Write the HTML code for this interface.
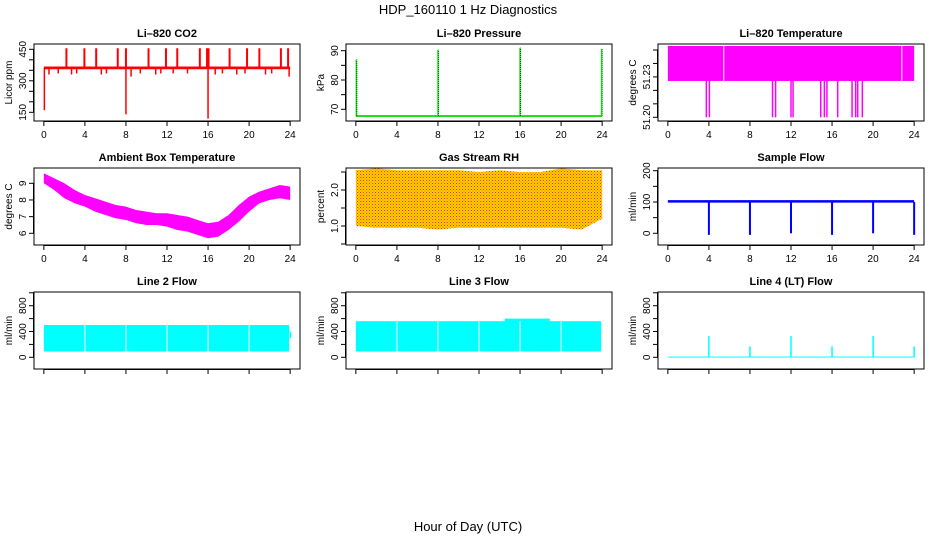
<!DOCTYPE html>
<html><head><meta charset="utf-8"><style>
body{margin:0;background:#fff}
svg{display:block;font-family:"Liberation Sans",sans-serif}
.t{font-weight:bold;font-size:11px}
.a{font-size:10px}
</style></head><body>
<svg id="c" width="936" height="540" xmlns="http://www.w3.org/2000/svg">
<defs>
<pattern id="rhp" width="3" height="3" patternUnits="userSpaceOnUse"><rect width="3" height="3" fill="#ffd400"/><rect width="1" height="1" fill="#ff2a00"/><rect x="1.5" y="1.5" width="1" height="1" fill="#ff4a00"/></pattern>
</defs>
<text x="468" y="14" text-anchor="middle" font-size="13">HDP_160110  1 Hz Diagnostics</text>
<text x="468" y="531" text-anchor="middle" font-size="13">Hour of Day (UTC)</text>
</svg>
<script>
const xTicks=[0,4,8,12,16,20,24];
// CO2
const co2Base=[355,368];
const co2SpikeHours=[2.2,3.95,5.1,7.2,8.0,10.2,11.9,13.0,15.2,15.9,16.05,18.1,19.8,21.0,23.1,23.8];
const co2SpikeVals=[455,455,455,455,455,455,455,455,455,455,455,455,455,455,455,455];
const co2DipHours=[0.05,8.0,16.0,0.5,1.4,2.7,3.2,5.6,6.1,8.5,9.4,10.9,11.4,12.6,14.0,16.7,17.4,18.8,19.6,21.6,22.2,23.9];
const co2DipVals=[160,140,120,330,335,330,335,330,335,320,335,330,335,335,335,330,335,330,335,330,335,320];
// Pressure
const presBase=67.7;
const presSpikeHours=[0.05,8.0,16.0,23.95];
const presSpikeVals=[87,90.3,91,90.6];
// Li-820 temperature
const tempBand=[51.227,51.253];
const tempDipHours=[3.75,4.05,10.2,10.5,12.0,12.2,14.9,15.25,15.5,16.55,17.95,18.3,18.5,18.95];
const tempDipVals=[51.20,51.20,51.20,51.20,51.20,51.20,51.20,51.20,51.20,51.20,51.20,51.20,51.20,51.20];
// Ambient box temp
const ambHours=[0,1,2,3,4,5,6,7,8,9,10,11,12,13,14,15,16,17,18,19,20,21,22,23,24];
const ambHigh=[9.6,9.3,9.0,8.6,8.3,8.1,7.9,7.7,7.6,7.4,7.3,7.2,7.2,7.1,7.0,6.8,6.6,6.7,7.1,7.7,8.2,8.5,8.7,8.9,8.8];
const ambLow=[9.0,8.6,8.1,7.8,7.6,7.3,7.1,6.9,6.8,6.6,6.5,6.5,6.4,6.2,6.1,5.9,5.7,5.8,6.2,6.7,7.3,7.8,8.0,8.1,8.0];
// RH
const rhHours=[0,2,4,6,8,10,12,14,16,18,20,22,24];
const rhHigh=[2.55,2.6,2.55,2.55,2.55,2.55,2.5,2.55,2.5,2.5,2.6,2.55,2.55];
const rhLow=[1.0,0.95,0.95,0.95,0.9,0.95,0.95,0.95,0.95,0.95,0.95,0.9,1.2];
// Sample flow
const sfBand=[98,106];
const sfDipHours=[4,8,12,16,20,24];
const sfDipVals=[-5,-5,0,-5,0,-5];
// Line flows
const l2Band=[90,500];
const l3Band=[90,560];
const lGapHours=[4,8,12,16,20];
const l4SpikeHours=[4,8,12,16,20,24];
const l4SpikeVals=[330,170,330,170,330,170];

const svg=document.getElementById('c');
const NS='http://www.w3.org/2000/svg';
function mk(tag,attrs,parent){const e=document.createElementNS(NS,tag);for(const k in attrs)e.setAttribute(k,attrs[k]);(parent||svg).appendChild(e);return e;}
const colX=[34,346,658], rowY=[44,168,292], W=266, H=77;
function panel(c,r,title,ylab,v1,p1,v2,p2,yt,yl,name){
  const L=colX[c],T=rowY[r];
  const g=mk('g',{});
  
  
  const px=x=>L+(x+0.96)*W/25.92;
  const py=v=>p1+(v-v1)*(p2-p1)/(v2-v1);
  const box=mk('rect',{x:L,y:T,width:W,height:H,fill:'none',stroke:'#000','stroke-width':1},g);
  
  
  const tt=mk('text',{x:L+W/2,y:T-7,'text-anchor':'middle',class:'t'},g);tt.textContent=title;
  
  
  const yy=mk('text',{transform:`translate(${L-22},${T+H/2}) rotate(-90)`,'text-anchor':'middle',class:'a'},g);yy.textContent=ylab;
  
  
  mk('line',{x1:px(0),x2:px(24),y1:T+H+0.5,y2:T+H+0.5,stroke:'#000'},g);
  xTicks.forEach(t=>{mk('line',{x1:px(t),x2:px(t),y1:T+H,y2:T+H+5,stroke:'#000'},g);
    if(r<2){const l=mk('text',{x:px(t),y:T+H+17,'text-anchor':'middle',class:'a'},g);l.textContent=t;
    
    }});
  mk('line',{x1:L-0.5,x2:L-0.5,y1:py(yt[0]),y2:py(yt[yt.length-1]),stroke:'#000'},g);
  yt.forEach(t=>mk('line',{x1:L-5,x2:L,y1:py(t),y2:py(t),stroke:'#000'},g));
  yl.forEach(t=>{const l=mk('text',{transform:`translate(${L-8},${py(t[0])}) rotate(-90)`,'text-anchor':'middle',class:'a'},g);l.textContent=t[1];
    
    });
  const d=mk('g',{},g);
  
  
  return {px,py,d};
}
function band(p,x0,x1,lo,hi,fill){return mk('rect',{x:p.px(x0),y:p.py(hi),width:p.px(x1)-p.px(x0),height:Math.max(1,p.py(lo)-p.py(hi)),fill},p.d);}
function vl(p,x,a,b,col,w){return mk('line',{x1:p.px(x),x2:p.px(x),y1:p.py(a),y2:p.py(b),stroke:col,'stroke-width':w||1.5},p.d);}

// CO2
let p=panel(0,0,'Li\u2013820 CO2','Licor ppm',450,49.3,150,112.3,[150,200,250,300,350,400,450],[[150,'150'],[300,'300'],[450,'450']],'co2');
band(p,0,24,co2Base[0],co2Base[1],'#ff0000');
co2SpikeHours.forEach((h,i)=>vl(p,h,360,co2SpikeVals[i],'#ff0000',2));
co2DipHours.forEach((h,i)=>vl(p,h,360,co2DipVals[i],'#ff0000',i<3?1.5:1.5));
// Pressure
p=panel(1,0,'Li\u2013820 Pressure','kPa',90,50.7,70,109.3,[70,75,80,85,90],[[70,'70'],[80,'80'],[90,'90']],'pressure');
band(p,0,24,presBase-0.3,presBase+0.3,'#00dd00');
presSpikeHours.forEach((h,i)=>{vl(p,h,presBase,presSpikeVals[i],'#00ee00',1.5);vl(p,h+0.05,presBase,presSpikeVals[i],'#000',0.6).setAttribute('stroke-dasharray','1,1');});
// Li-820 temperature
p=panel(2,0,'Li\u2013820 Temperature','degrees C',51.20,117.3,51.25,50,[51.20,51.21,51.22,51.23,51.24,51.25],[[51.20,'51.20'],[51.23,'51.23']],'li820-temp');
band(p,0,24,tempBand[0],tempBand[1],'#ff00ff');
vl(p,5.45,tempBand[0],tempBand[1],'#fff',1);vl(p,22.8,tempBand[0],tempBand[1],'#fff',1);
tempDipHours.forEach((h,i)=>vl(p,h,tempBand[0],tempDipVals[i],'#ff00ff',1.5));
// Ambient
p=panel(0,1,'Ambient Box Temperature','degrees C',9,183.3,6,233.3,[6,7,8,9],[[6,'6'],[7,'7'],[8,'8'],[9,'9']],'ambient-temp');
{let pts=ambHours.map((h,i)=>p.px(h)+','+p.py(ambHigh[i]));pts=pts.concat(ambHours.map((h,i)=>p.px(h)+','+p.py(ambLow[i])).reverse());
mk('polygon',{points:pts.join(' '),fill:'#ff00ff'},p.d);}
// RH
p=panel(1,1,'Gas Stream RH','percent',2.0,190,1.0,226,[0.5,1.0,1.5,2.0,2.5],[[1.0,'1.0'],[2.0,'2.0']],'gas-rh');
{let pts=rhHours.map((h,i)=>p.px(h)+','+p.py(rhHigh[i]));pts=pts.concat(rhHours.map((h,i)=>p.px(h)+','+p.py(rhLow[i])).reverse());
mk('polygon',{points:pts.join(' '),fill:'url(#rhp)'},p.d);}
// Sample flow
p=panel(2,1,'Sample Flow','ml/min',0,233.3,200,170.7,[0,50,100,150,200],[[0,'0'],[100,'100'],[200,'200']],'sample-flow');
band(p,0,24,sfBand[0],sfBand[1],'#0000ff');
sfDipHours.forEach((h,i)=>vl(p,h,100,sfDipVals[i],'#0000ff',2));
// Line 2
p=panel(0,2,'Line 2 Flow','ml/min',0,357.3,800,305.7,[0,200,400,600,800,1000],[[0,'0'],[400,'400'],[800,'800']],'line2-flow');
band(p,0,23.9,l2Band[0],l2Band[1],'#00ffff');
lGapHours.forEach(h=>vl(p,h,l2Band[0],l2Band[1],'#fff',1));
band(p,23.95,24.1,300,400,'#00ffff');
// Line 3
p=panel(1,2,'Line 3 Flow','ml/min',0,357.3,800,305.7,[0,200,400,600,800,1000],[[0,'0'],[400,'400'],[800,'800']],'line3-flow');
band(p,0,23.9,l3Band[0],l3Band[1],'#00ffff');
band(p,14.5,18.9,l3Band[1]-20,600,'#00ffff');
lGapHours.forEach(h=>vl(p,h,l3Band[0],l3Band[1],'#fff',1));
// Line 4
p=panel(2,2,'Line 4 (LT) Flow','ml/min',0,357.3,800,305.7,[0,200,400,600,800,1000],[[0,'0'],[400,'400'],[800,'800']],'line4-flow');
band(p,0,24,0,12,'#00ffff');
l4SpikeHours.forEach((h,i)=>vl(p,h,0,l4SpikeVals[i],'#00ffff',1.5));
</script>
</body></html>
